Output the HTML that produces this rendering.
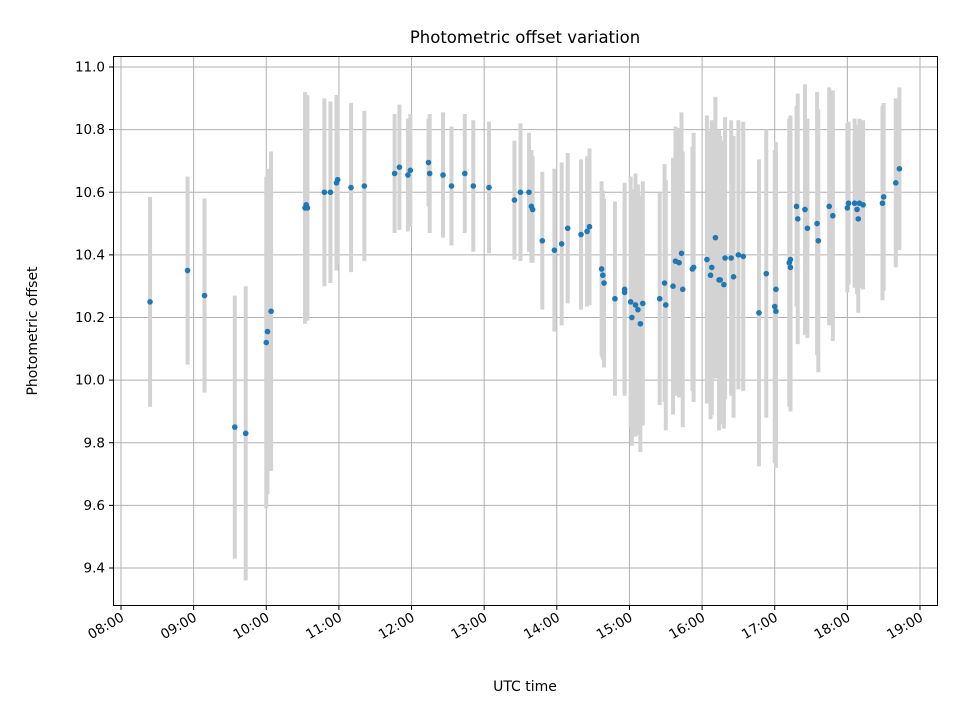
<!DOCTYPE html>
<html><head><meta charset="utf-8">
<style>
html,body{margin:0;padding:0;background:#fff;}
svg{display:block;font-family:"DejaVu Sans","Liberation Sans",sans-serif;}
</style></head>
<body>
<svg id="chart" width="960" height="720" viewBox="0 0 960 720" xmlns="http://www.w3.org/2000/svg">
<rect x="0" y="0" width="960" height="720" fill="#fff"/>
<text x="525" y="43" font-size="16.5" text-anchor="middle" fill="#000">Photometric offset variation</text>
<g id="grid"></g>
<g id="bars"></g>
<g id="pts"></g>
<rect x="113.5" y="56.5" width="824" height="549" fill="none" stroke="#000" stroke-width="1"/>
<g id="axes"></g>
<text x="525" y="691" font-size="14" text-anchor="middle">UTC time</text>
<text transform="translate(37,331) rotate(-90)" font-size="14" text-anchor="middle">Photometric offset</text>
</svg>
<script>
const times=["08:24","08:55","09:09","09:34","09:43","10:00","10:01","10:04","10:32","10:33","10:34","10:48","10:53","10:58","10:59","11:10","11:21","11:46","11:50","11:57","11:59","12:14","12:15","12:26","12:33","12:44","12:51","13:04","13:25","13:30","13:37","13:39","13:40","13:48","13:58","14:04","14:09","14:20","14:25","14:27","14:37","14:38","14:39","14:48","14:56","14:56","15:01","15:02","15:05","15:07","15:09","15:11","15:25","15:29","15:30","15:36","15:38","15:41","15:43","15:44","15:52","15:53","16:04","16:07","16:08","16:11","16:14","16:15","16:18","16:19","16:24","16:26","16:30","16:34","16:47","16:53","17:00","17:01","17:01","17:12","17:13","17:13","17:18","17:19","17:25","17:27","17:35","17:36","17:45","17:48","18:00","18:01","18:06","18:08","18:09","18:10","18:13","18:29","18:30","18:40","18:43"];
const values=[10.25,10.35,10.27,9.85,9.83,10.12,10.155,10.22,10.55,10.56,10.55,10.60,10.60,10.63,10.64,10.615,10.62,10.66,10.68,10.655,10.67,10.695,10.66,10.655,10.62,10.66,10.62,10.615,10.575,10.60,10.60,10.555,10.545,10.445,10.415,10.435,10.485,10.465,10.475,10.49,10.355,10.335,10.31,10.26,10.29,10.28,10.25,10.20,10.24,10.225,10.18,10.245,10.26,10.31,10.24,10.30,10.38,10.375,10.405,10.29,10.355,10.36,10.385,10.335,10.36,10.455,10.32,10.32,10.305,10.39,10.39,10.33,10.40,10.395,10.215,10.34,10.235,10.22,10.29,10.375,10.36,10.385,10.555,10.515,10.545,10.485,10.50,10.445,10.555,10.525,10.55,10.565,10.565,10.545,10.515,10.565,10.56,10.565,10.585,10.63,10.675];
const errors=[0.335,0.30,0.31,0.42,0.47,0.53,0.52,0.51,0.37,0.35,0.36,0.30,0.29,0.28,0.27,0.27,0.24,0.19,0.20,0.18,0.18,0.14,0.19,0.20,0.19,0.19,0.21,0.21,0.19,0.22,0.19,0.18,0.17,0.22,0.26,0.26,0.24,0.24,0.24,0.25,0.28,0.27,0.27,0.31,0.34,0.32,0.40,0.41,0.42,0.40,0.41,0.39,0.34,0.38,0.40,0.41,0.43,0.43,0.45,0.44,0.39,0.43,0.46,0.46,0.47,0.45,0.48,0.46,0.46,0.45,0.44,0.45,0.43,0.43,0.49,0.46,0.50,0.50,0.47,0.46,0.46,0.46,0.32,0.40,0.40,0.35,0.42,0.42,0.38,0.40,0.27,0.26,0.27,0.27,0.30,0.27,0.27,0.31,0.30,0.27,0.26];
const yTicks=[9.4,9.6,9.8,10.0,10.2,10.4,10.6,10.8,11.0];
const xTickLabels=["08:00","09:00","10:00","11:00","12:00","13:00","14:00","15:00","16:00","17:00","18:00","19:00"];

const NS="http://www.w3.org/2000/svg";
function toHours(s){const p=s.split(":");return +p[0]+(+p[1])/60;}
function xs(h){return 121+(h-8)*(920-121)/11;}
function ys(v){return 67+(11.0-v)*(568-67)/1.6;}
function mk(tag,attrs,parent){const e=document.createElementNS(NS,tag);for(const k in attrs)e.setAttribute(k,attrs[k]);parent.appendChild(e);return e;}
const grid=document.getElementById('grid'),axes=document.getElementById('axes'),bars=document.getElementById('bars'),pts=document.getElementById('pts');

yTicks.forEach(t=>{
  const y=ys(t);
  const g=mk('line',{x1:113.5,x2:937.5,y1:y,y2:y,stroke:'#b0b0b0','stroke-width':1},grid);
  
  
  const tk=mk('line',{x1:109,x2:113.5,y1:y,y2:y,stroke:'#000','stroke-width':1},axes);
  
  
  const tx=mk('text',{x:105,y:y+4.5,'font-size':13.5,'text-anchor':'end'},axes);
  
  
  tx.textContent=t.toFixed(1);
});
xTickLabels.forEach(l=>{
  const x=xs(toHours(l));
  const g=mk('line',{x1:x,x2:x,y1:56.5,y2:605.5,stroke:'#b0b0b0','stroke-width':1},grid);
  
  
  const tk=mk('line',{x1:x,x2:x,y1:605.5,y2:610,stroke:'#000','stroke-width':1},axes);
  
  
  const tx=mk('text',{'font-size':13.5,'text-anchor':'end',transform:'translate('+(x+4)+',620) rotate(-30)'},axes);
  
  
  tx.textContent=l;
});
times.forEach((t,i)=>{
  const x=xs(toHours(t)),v=values[i],e=errors[i];
  const b=mk('line',{x1:x,x2:x,y1:ys(v+e),y2:ys(v-e),stroke:'#d3d3d3','stroke-width':4},bars);
  
  
});
times.forEach((t,i)=>{
  const c=mk('circle',{cx:xs(toHours(t)),cy:ys(values[i]),r:2.8,fill:'#1f77b4'},pts);
  
  
});
</script>
</body></html>
